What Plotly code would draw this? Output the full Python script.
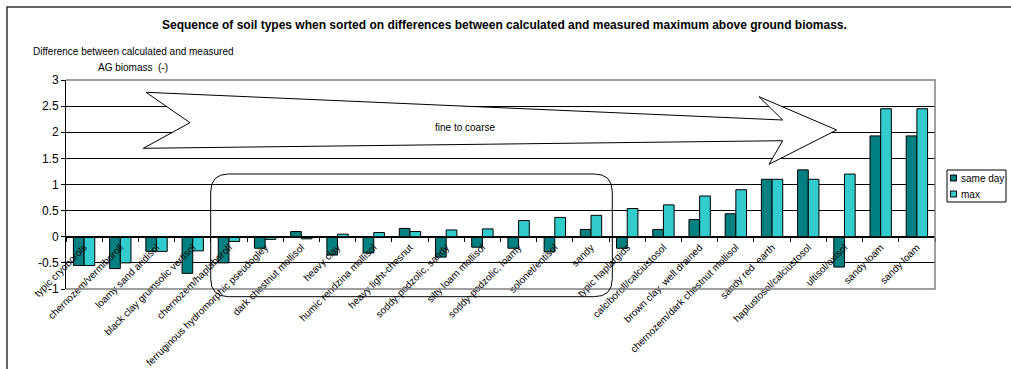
import plotly.graph_objects as go

# Soil types, sorted on the difference between calculated and measured biomass
soil_types = [
    "typic cryoborols", "chernozem/vermiboroll", "loamy sand aridisol",
    "black clay grumsolic vertisol", "chernozem/haplaboroll",
    "ferruginous hydromorphic pseudogley", "dark chestnut mollisol", "heavy clay",
    "humic rendzina mollisol", "heavy light-chesnut", "soddy-podzolic, sandy",
    "silty loam mollisol", "soddy-podzolic, loamy", "solonet/entisol", "sandy",
    "typic haplargids", "calciboroll/calciustosol", "brown clay, well drained",
    "chernozem/dark chestnut mollisol", "sandy red  earth",
    "haplustosol/calciustosol", "ultisol/oxisol", "sandy loam", "sandy loam",
]

same_day = [-0.55, -0.61, -0.28, -0.70, -0.50, -0.22, 0.10, -0.35, -0.31, 0.16,
            -0.39, -0.20, -0.22, -0.29, 0.14, -0.22, 0.14, 0.33, 0.44, 1.10,
            1.28, -0.58, 1.93, 1.93]
max_diff = [-0.55, -0.50, -0.28, -0.27, -0.09, -0.05, -0.04, 0.05, 0.08, 0.10,
            0.13, 0.15, 0.31, 0.37, 0.41, 0.54, 0.61, 0.78, 0.90, 1.10,
            1.10, 1.20, 2.45, 2.45]

y_ticks = [-1, -0.5, 0, 0.5, 1, 1.5, 2, 2.5, 3]

W, H = 1011, 369
ML, MR, MT, MB = 66, 76, 80, 80
PW, PH = W - ML - MR, H - MT - MB

FONT = "Liberation Sans, Arial, sans-serif"
DARK = "#008080"
LIGHT = "#33CCCC"


def px(x, y):
    """Convert page pixel position to paper coordinates."""
    return (x - ML) / PW, (H - MB - y) / PH


def path_from(points, close=True):
    parts = []
    for i, (x, y) in enumerate(points):
        u, v = px(x, y)
        parts.append(("M" if i == 0 else "L") + f"{u:.5f},{v:.5f}")
    return " ".join(parts) + (" Z" if close else "")


def rounded_rect(x0, y0, x1, y1, r):
    def p(x, y):
        u, v = px(x, y)
        return f"{u:.5f},{v:.5f}"
    return (f"M{p(x0 + r, y0)} L{p(x1 - r, y0)} Q{p(x1, y0)} {p(x1, y0 + r)} "
            f"L{p(x1, y1 - r)} Q{p(x1, y1)} {p(x1 - r, y1)} "
            f"L{p(x0 + r, y1)} Q{p(x0, y1)} {p(x0, y1 - r)} "
            f"L{p(x0, y0 + r)} Q{p(x0, y0)} {p(x0 + r, y0)} Z")


idx = list(range(len(soil_types)))

fig = go.Figure()
fig.add_trace(go.Bar(x=idx, y=same_day, name="same day", marker_color=DARK,
                     marker_line=dict(color="black", width=1)))
fig.add_trace(go.Bar(x=idx, y=max_diff, name="max", marker_color=LIGHT,
                     marker_line=dict(color="black", width=1)))

zero_pos = (0 - y_ticks[0]) / (y_ticks[-1] - y_ticks[0])

shapes = []
# outer chart frame (top and left edges)
shapes.append(dict(type="path", xref="paper", yref="paper",
                   path=path_from([(7, 400), (7, 7), (1020, 7)], close=False),
                   line=dict(color="#333333", width=1.5), layer="above"))
# plot area border (top, right, bottom)
shapes.append(dict(type="path", xref="paper", yref="paper",
                   path="M0,1 L1,1 L1,0 L0,0",
                   line=dict(color="#808080", width=1.5), layer="above"))
# big "fine to coarse" arrow
arrow = [(146, 92.3), (782.7, 120), (759, 96.7), (836.7, 130), (769, 164.3),
         (782.7, 140.7), (143.3, 148.3), (190, 122.7)]
shapes.append(dict(type="path", xref="paper", yref="paper", path=path_from(arrow),
                   fillcolor="white", line=dict(color="black", width=1), layer="above"))
# rounded box around the middle group
shapes.append(dict(type="path", xref="paper", yref="paper",
                   path=rounded_rect(210.7, 174, 612.3, 296.7, 18),
                   line=dict(color="black", width=1), layer="above"))
# legend box and swatches
lx0, ly0 = px(947, 170)
lx1, ly1 = px(1006, 202)
shapes.append(dict(type="rect", xref="paper", yref="paper", x0=lx0, y0=ly0, x1=lx1, y1=ly1,
                   fillcolor="white", line=dict(color="black", width=1), layer="above"))
for cy, col in [(178, DARK), (194, LIGHT)]:
    a0, b0 = px(950.5, cy - 3)
    a1, b1 = px(956.5, cy + 3)
    shapes.append(dict(type="rect", xref="paper", yref="paper", x0=a0, y0=b0, x1=a1, y1=b1,
                       fillcolor=col, line=dict(color="black", width=1), layer="above"))

annotations = []


def text_at(x, y, s, size=10, bold=False, xanchor="center", align="center"):
    u, v = px(x, y)
    annotations.append(dict(xref="paper", yref="paper", x=u, y=v,
                            text=f"<b>{s}</b>" if bold else s,
                            showarrow=False, xanchor=xanchor, yanchor="middle",
                            align=align,
                            font=dict(family=FONT, size=size, color="black")))


text_at(504, 25, "Sequence of soil types when sorted on differences between calculated "
        "and measured maximum above ground biomass.", size=12, bold=True)
text_at(133, 52, "Difference between calculated and measured")
text_at(133, 67, "AG biomass  (-)")
text_at(465, 127, "fine to coarse")
text_at(959, 178, "same day", xanchor="left")
text_at(959, 194, "max", xanchor="left")

fig.update_layout(
    width=W, height=H,
    margin=dict(l=ML, r=MR, t=MT, b=MB, autoexpand=False),
    paper_bgcolor="white", plot_bgcolor="white",
    barmode="group", bargap=0.41, bargroupgap=0,
    showlegend=False,
    font=dict(family=FONT, color="black"),
    shapes=shapes, annotations=annotations,
    xaxis=dict(
        type="linear", range=[-0.5, len(soil_types) - 0.5],
        tickmode="array", tickvals=idx, ticktext=soil_types,
        tickangle=-45, ticks="", tickfont=dict(family=FONT, size=10, color="black"),
        minor=dict(tickmode="array", tickvals=[i - 0.5 for i in range(len(soil_types) + 1)],
                   ticks="outside", ticklen=4, tickcolor="black", tickwidth=1, showgrid=False),
        showgrid=False, zeroline=False, showline=True, linecolor="black", linewidth=1,
        anchor="free", position=zero_pos, automargin=False,
    ),
    yaxis=dict(
        range=[y_ticks[0], y_ticks[-1]], tickmode="array", tickvals=y_ticks,
        ticktext=[f"{v:g}" for v in y_ticks],
        ticks="outside", ticklen=4, tickcolor="black",
        tickfont=dict(family=FONT, size=12, color="black"),
        showgrid=True, gridcolor="black", gridwidth=1,
        zeroline=True, zerolinecolor="black", zerolinewidth=1,
        showline=True, linecolor="black", linewidth=1, automargin=False,
    ),
)

fig.write_html("out.html")
